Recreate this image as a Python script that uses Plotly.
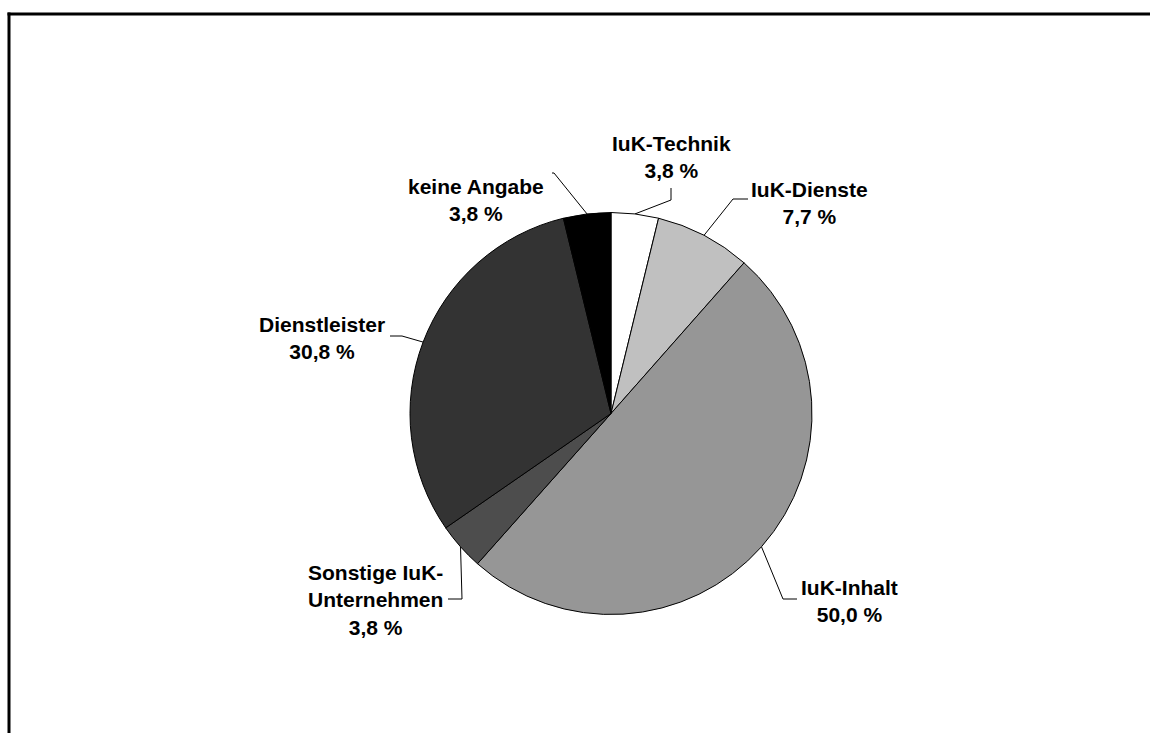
import math
import plotly.graph_objects as go

# Shares of companies by sector (percent)
categories = ["IuK-Technik", "IuK-Dienste", "IuK-Inhalt",
              "Sonstige IuK-Unternehmen", "Dienstleister", "keine Angabe"]
shares = [3.8, 7.7, 50.0, 3.8, 30.8, 3.8]
share_labels = ["3,8 %", "7,7 %", "50,0 %", "3,8 %", "30,8 %", "3,8 %"]
label_names = ["IuK-Technik", "IuK-Dienste", "IuK-Inhalt",
               "Sonstige IuK-<br>Unternehmen", "Dienstleister", "keine Angabe"]
colors = ["#ffffff", "#c0c0c0", "#969696", "#4d4d4d", "#333333", "#000000"]

W, H = 1160, 733
CX, CY, R = 611, 413.5, 201

# label text position (px) and the elbow of its leader line
label_pos = [(671, 157), (809, 203), (849, 600.5), (375, 600), (322, 337.5), (476, 200)]
elbows = [
    [(671, 188), (671, 200)],
    [(748, 199), (733, 199)],
    [(797, 599), (783, 599)],
    [(448, 599), (462, 599)],
    [(390, 336), (402, 336)],
    [(552, 173), (554, 173)],
]

fig = go.Figure()
fig.add_trace(go.Pie(
    labels=categories, values=shares, sort=False, direction="clockwise",
    rotation=0, marker=dict(colors=colors, line=dict(color="#000000", width=1)),
    textinfo="none", hoverinfo="label+percent", showlegend=False,
    domain=dict(x=[(CX - R) / W, (CX + R) / W],
                y=[1 - (CY + R) / H, 1 - (CY - R) / H]),
))

# leader lines from the label to the middle of each slice's outer edge
total = sum(shares)
cum = 0.0
for i, v in enumerate(shares):
    mid = (cum + v / 2) / total * 2 * math.pi
    cum += v
    ex, ey = CX + R * math.sin(mid), CY - R * math.cos(mid)
    pts = elbows[i] + [(ex, ey)]
    fig.add_trace(go.Scatter(
        x=[p[0] for p in pts], y=[p[1] for p in pts], mode="lines",
        line=dict(color="#000000", width=1), hoverinfo="skip", showlegend=False,
    ))
    lx, ly = label_pos[i]
    fig.add_annotation(
        x=lx, y=ly, xref="x", yref="y", showarrow=False,
        text=f"{label_names[i]}<br>{share_labels[i]}",
        font=dict(family="Liberation Sans, Arial", size=21, color="#000000",
                  weight="bold"),
        align="center",
    )

# outer frame: only its top and left edges fall inside the page
frame = dict(color="#000000", width=3)
fig.add_shape(type="line", xref="x", yref="y",
              x0=7.5, y0=14, x1=1150, y1=14, line=frame)
fig.add_shape(type="line", xref="x", yref="y",
              x0=9, y0=12.5, x1=9, y1=H, line=frame)

fig.update_layout(
    width=W, height=H, margin=dict(l=0, r=0, t=0, b=0),
    paper_bgcolor="#ffffff", plot_bgcolor="rgba(0,0,0,0)",
    xaxis=dict(range=[0, W], visible=False, domain=[0, 1], fixedrange=True),
    yaxis=dict(range=[H, 0], visible=False, domain=[0, 1], fixedrange=True),
    font=dict(family="Liberation Sans, Arial", size=21, weight="bold"),
)

fig.write_html("out.html")
